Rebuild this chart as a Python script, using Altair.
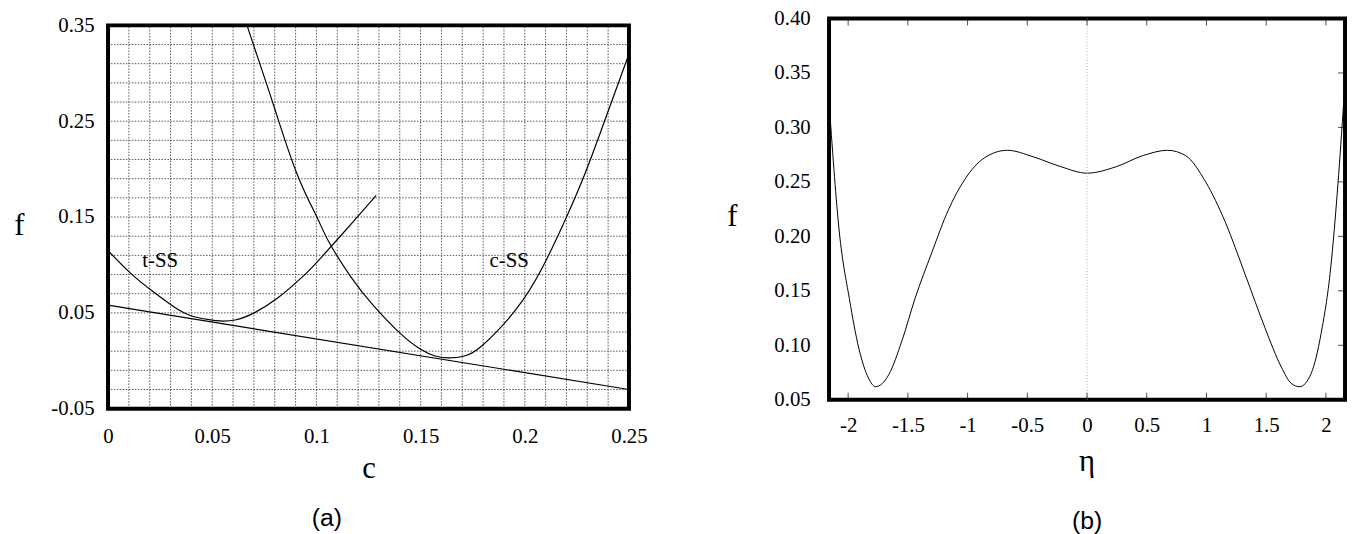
import altair as alt
import pandas as pd

# ---------------- panel (a) data ----------------
a_tss_c = [0.0, 0.0105, 0.0214, 0.0325, 0.0405, 0.0516, 0.061, 0.0706, 0.0817, 0.093, 0.1024, 0.118, 0.1287]
a_tss_f = [0.115, 0.092, 0.0725, 0.055, 0.0465, 0.0418, 0.0425, 0.0505, 0.066, 0.087, 0.108, 0.146, 0.1725]

a_css_c = [0.0667, 0.073, 0.080, 0.0905, 0.100, 0.106, 0.1167, 0.1276, 0.1405, 0.150, 0.157, 0.164, 0.171,
           0.1796, 0.1956, 0.2084, 0.2196, 0.2292, 0.2396, 0.2488, 0.25]
a_css_f = [0.35, 0.309, 0.263, 0.196, 0.151, 0.124, 0.087, 0.057, 0.028, 0.012, 0.005, 0.003, 0.005,
           0.016, 0.053, 0.097, 0.148, 0.197, 0.258, 0.313, 0.32]

a_tan_c = [0.0, 0.25]
a_tan_f = [0.058, -0.030]

a_text = ["t-SS", "c-SS"]
a_text_c = [0.025, 0.1925]
a_text_f = [0.104, 0.104]

a_x_domain = [0.0, 0.25]
a_y_domain = [-0.05, 0.35]
a_y_view = [-0.05, 0.3572]          # plot area reaches a little above the frame
a_x_labels = [0, 0.05, 0.1, 0.15, 0.2, 0.25]
a_y_labels = [-0.05, 0.05, 0.15, 0.25, 0.35]
a_x_grid = [0, 0.01, 0.02, 0.03, 0.04, 0.05, 0.06, 0.07, 0.08, 0.09, 0.1, 0.11, 0.12, 0.13,
            0.14, 0.15, 0.16, 0.17, 0.18, 0.19, 0.2, 0.21, 0.22, 0.23, 0.24, 0.25]
a_y_grid = [-0.05, -0.03, -0.01, 0.01, 0.03, 0.05, 0.07, 0.09, 0.11, 0.13, 0.15, 0.17, 0.19,
            0.21, 0.23, 0.25, 0.27, 0.29, 0.31, 0.33, 0.35]

# ---------------- panel (b) data ----------------
b_eta = [-2.155, -2.074, -1.99, -1.91, -1.83, -1.77, -1.66, -1.55, -1.44, -1.30, -1.16, -1.025, -0.86,
         -0.667, -0.45, -0.22, 0.0, 0.246, 0.465, 0.675, 0.827, 0.993, 1.158, 1.324, 1.49, 1.627,
         1.71, 1.78, 1.876, 1.96, 2.04, 2.10, 2.15]
b_f = [0.316, 0.204, 0.143, 0.097, 0.070, 0.062, 0.073, 0.104, 0.143, 0.185, 0.2245, 0.252, 0.272,
       0.279, 0.273, 0.264, 0.258, 0.264, 0.274, 0.279, 0.274, 0.250, 0.213, 0.165, 0.116, 0.080,
       0.065, 0.062, 0.074, 0.111, 0.171, 0.247, 0.325]

b_x_domain = [-2.16, 2.16]
b_y_domain = [0.05, 0.40]
b_x_labels = [-2, -1.5, -1, -0.5, 0, 0.5, 1, 1.5, 2]
b_y_labels = [0.05, 0.10, 0.15, 0.20, 0.25, 0.30, 0.35, 0.40]
b_center = [0]

SERIF = "Liberation Serif"
SANS = "Liberation Sans"
LABEL_FS = 21
TITLE_FS = 31


def label_expr(shown, fmt):
    cond = " || ".join(f"abs(datum.value - ({v})) < 0.000001" for v in shown)
    txt = f"(datum.value < 0 ? '-' : '') + format(abs(datum.value), '{fmt}')"
    return f"({cond}) ? {txt} : ''"


def axis(values, shown, fmt, pad, title, tx, ty, angle=None):
    kw = dict(values=values, labelExpr=label_expr(shown, fmt), grid=False,
              ticks=False, domain=False, labelPadding=pad, labelFont=SERIF,
              labelFontSize=LABEL_FS, labelColor="black", labelOverlap=False, labelFlush=False,
              title=title, titleFont=SERIF, titleFontSize=TITLE_FS, titleFontWeight="normal",
              titleColor="black", titleX=tx, titleY=ty, titleAlign="center",
              titleBaseline="alphabetic")
    if angle is not None:
        kw["titleAngle"] = angle
    return alt.Axis(**kw)


# ---------------- panel (a) ----------------
curves_a = pd.concat([
    pd.DataFrame({"c": a_tan_c, "f": a_tan_f, "curve": "tangent"}),
    pd.DataFrame({"c": a_tss_c, "f": a_tss_f, "curve": "t-SS"}),
    pd.DataFrame({"c": a_css_c, "f": a_css_f, "curve": "c-SS"}),
])
text_a = pd.DataFrame({"c": a_text_c, "f": a_text_f, "label": a_text})
vgrid_a = pd.DataFrame({"c": a_x_grid, "f": a_y_domain[0], "f2": a_y_domain[1]})
hgrid_a = pd.DataFrame({"f": a_y_grid, "c": a_x_domain[0], "c2": a_x_domain[1]})
frame_a = pd.DataFrame({"c": [a_x_domain[0]], "c2": [a_x_domain[1]],
                        "f": [a_y_domain[0]], "f2": [a_y_domain[1]]})

xs_a = alt.Scale(domain=a_x_domain, nice=False, zero=False)
ys_a = alt.Scale(domain=a_y_view, nice=False, zero=False)

ax_a_x = axis(a_x_labels, a_x_labels, "~g", 17, "c", 263, 69)
ax_a_y = axis(a_y_labels, a_y_labels, ".2f", 14, "f", -90, 218, angle=0)

xa = alt.X("c:Q", scale=xs_a, axis=ax_a_x)
ya = alt.Y("f:Q", scale=ys_a, axis=ax_a_y)

grid_style = dict(color="#555", strokeDash=[1.5, 1.5], strokeWidth=1)
vgrid = alt.Chart(vgrid_a).mark_rule(**grid_style).encode(x=xa, y=ya, y2="f2:Q")
hgrid = alt.Chart(hgrid_a).mark_rule(**grid_style).encode(x=xa, x2="c2:Q", y=ya)

lines_a = alt.Chart(curves_a).mark_line(color="black", strokeWidth=1.2, interpolate="natural",
                                        clip=True).encode(x=xa, y=ya, detail="curve:N")
labels_a = alt.Chart(text_a).mark_text(font=SERIF, fontSize=21, color="black",
                                       align="center", baseline="middle").encode(
    x=xa, y=ya, text="label:N")
frame = alt.Chart(frame_a).mark_rect(filled=False, stroke="black", strokeWidth=4).encode(
    x=xa, x2="c2:Q", y=ya, y2="f2:Q")

panel_a = alt.layer(vgrid, hgrid, lines_a, labels_a, frame).properties(
    width=526, height=394,
    view=alt.ViewBackground(stroke="transparent"),
    title=alt.TitleParams(text="(a)", orient="bottom", offset=23, anchor="middle",
                          dx=-42, font=SANS, fontSize=25, fontWeight="normal", color="black",
                          baseline="top"),
)

# ---------------- panel (b) ----------------
curve_b = pd.DataFrame({"eta": b_eta, "f": b_f})
xs_b = alt.Scale(domain=b_x_domain, nice=False, zero=False)
ys_b = alt.Scale(domain=b_y_domain, nice=False, zero=False)

ax_b_x = axis(b_x_labels, b_x_labels, "~g", 15, "η", 260, 71)
ax_b_y = axis(b_y_labels, b_y_labels, ".2f", 19, "f", -98, 209, angle=0)

xb = alt.X("eta:Q", scale=xs_b, axis=ax_b_x)
yb = alt.Y("f:Q", scale=ys_b, axis=ax_b_y)

center_b = alt.Chart(pd.DataFrame({"eta": b_center})).mark_rule(
    color="#b0b0b0", strokeDash=[1, 2], strokeWidth=1).encode(x=xb)

line_b = alt.Chart(curve_b).mark_line(color="black", strokeWidth=1, interpolate="monotone",
                                      clip=True).encode(x=xb, y=yb)

bottom_df = pd.DataFrame({"eta": b_x_labels, "f": b_y_domain[0]})
top_df = pd.DataFrame({"eta": b_x_labels, "f": b_y_domain[1]})
right_df = pd.DataFrame({"eta": b_x_domain[1], "f": b_y_labels})

bottom_ticks = alt.Chart(bottom_df).mark_tick(orient="vertical", size=7, thickness=1, yOffset=-3.5,
                                              color="black").encode(x=xb, y=yb)
top_ticks = alt.Chart(top_df).mark_tick(orient="vertical", size=7, thickness=1, yOffset=3.5,
                                        color="black").encode(x=xb, y=yb)
right_ticks = alt.Chart(right_df).mark_tick(orient="horizontal", size=7, thickness=1, xOffset=-3.5,
                                            color="black").encode(x=xb, y=yb)

panel_b = alt.layer(line_b, center_b, bottom_ticks, top_ticks, right_ticks).properties(
    width=521, height=385,
    view=alt.ViewBackground(stroke="black", strokeWidth=4),
    title=alt.TitleParams(text="(b)", orient="bottom", offset=33, anchor="middle",
                          dx=0, font=SANS, fontSize=25, fontWeight="normal", color="black",
                          baseline="top"),
)

chart = alt.hconcat(panel_a, panel_b, spacing=77).properties(
    padding={"left": 5, "top": -5, "right": 0, "bottom": 0},
    background="white",
)

chart.save("out.html", embed_options={"renderer": "svg", "actions": False})
